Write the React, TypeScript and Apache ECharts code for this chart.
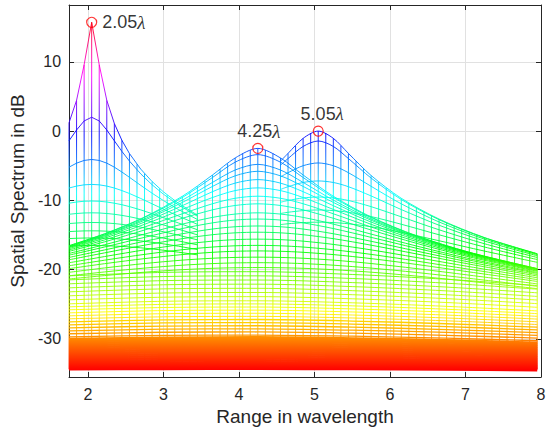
import React, { useEffect, useRef } from "react";
import * as echarts from "echarts";

// Mesh column positions (range grid, in wavelengths) and the top of each column
const COL_X = [1.75, 1.85, 1.95, 2.05, 2.15, 2.25, 2.35, 2.45, 2.55, 2.65, 2.75, 2.85, 2.95, 3.05, 3.15, 3.25, 3.35, 3.45, 3.55, 3.65, 3.75, 3.85, 3.95, 4.05, 4.15, 4.25, 4.35, 4.45, 4.55, 4.65, 4.75, 4.85, 4.95, 5.05, 5.15, 5.25, 5.35, 5.45, 5.55, 5.65, 5.75, 5.85, 5.95, 6.05, 6.15, 6.25, 6.35, 6.45, 6.55, 6.65, 6.75, 6.85, 6.95, 7.05, 7.15, 7.25, 7.35, 7.45, 7.55, 7.65, 7.75, 7.85, 7.95];
const COL_TOP = [1.2, 4.44, 9.58, 15.7, 9.58, 4.44, 1.1, -1.33, -3.24, -4.8, -6.13, -7.28, -8.3, -9.21, -10.04, -9.41, -8.71, -7.96, -7.17, -6.34, -5.5, -4.66, -3.88, -3.21, -2.76, -2.5, -2.76, -3.21, -3.88, -3.22, -2.09, -1.05, -0.28, 0.0, -0.28, -1.05, -2.09, -3.22, -4.35, -5.41, -6.41, -7.33, -8.18, -8.97, -9.7, -10.38, -11.02, -11.61, -12.17, -12.7, -13.2, -13.68, -14.13, -14.56, -14.97, -15.36, -15.73, -16.09, -16.44, -16.77, -17.09, -17.4, -17.7];
const FLOOR = -34.4;

// Rows around the source at 2.05 wavelengths
const A_X = [1.75, 1.85, 1.95, 2.05, 2.15, 2.25, 2.35, 2.45, 2.55, 2.7, 2.85, 3.0, 3.2, 3.45];
const A_ROWS = [
  [1.2, 4.44, 9.58, 15.7, 9.58, 4.44, 1.1, -1.33, -3.24, -5.49, -7.28, -8.77, -10.43, -12.13],
  [-1.4, 0.16, 1.46, 2.0, 1.46, 0.16, -1.4, -2.93, -4.33, -6.18, -7.75, -9.11, -10.66, -12.29],
  [-5.21, -4.63, -4.24, -4.1, -4.24, -4.63, -5.21, -5.91, -6.67, -7.84, -8.97, -10.03, -11.33, -12.76],
  [-8.22, -7.94, -7.76, -7.7, -7.76, -7.94, -8.22, -8.59, -9.01, -9.73, -10.5, -11.27, -12.28, -13.46],
  [-10.41, -10.24, -10.13, -10.1, -10.13, -10.24, -10.41, -10.63, -10.9, -11.38, -11.92, -12.49, -13.27, -14.24],
  [-12.01, -11.9, -11.82, -11.8, -11.82, -11.9, -12.01, -12.17, -12.36, -12.71, -13.11, -13.55, -14.17, -14.98],
  [-13.35, -13.27, -13.21, -13.2, -13.21, -13.27, -13.35, -13.47, -13.61, -13.87, -14.18, -14.53, -15.04, -15.7],
  [-14.51, -14.45, -14.41, -14.4, -14.41, -14.45, -14.51, -14.6, -14.71, -14.92, -15.17, -15.45, -15.86, -16.42],
  [-15.52, -15.47, -15.44, -15.43, -15.44, -15.47, -15.52, -15.6, -15.68, -15.85, -16.05, -16.28, -16.62, -17.1],
  [-16.6, -16.56, -16.53, -16.52, -16.53, -16.56, -16.6, -16.65, -16.72, -16.85, -17.01, -17.2, -17.48, -17.87],
];

// Rows around the source at 4.25 wavelengths
const B_X = [1.75, 2.25, 2.75, 3.25, 3.65, 3.95, 4.25, 4.55, 4.85, 5.25, 5.75, 6.35, 7.05, 7.95];
const B_ROWS = [
  [-16.54, -14.7, -12.4, -9.41, -6.34, -3.88, -2.5, -3.88, -6.34, -9.41, -12.4, -15.1, -17.49, -19.85],
  [-16.57, -14.75, -12.49, -9.59, -6.7, -4.49, -3.4, -4.49, -6.7, -9.59, -12.49, -15.15, -17.51, -19.86],
  [-16.65, -14.87, -12.69, -9.97, -7.41, -5.62, -4.8, -5.62, -7.41, -9.97, -12.69, -15.25, -17.58, -19.9],
  [-16.73, -14.98, -12.87, -10.3, -7.99, -6.46, -5.8, -6.46, -7.99, -10.3, -12.87, -15.35, -17.64, -19.94],
  [-16.83, -15.14, -13.13, -10.77, -8.75, -7.51, -7.0, -7.51, -8.75, -10.77, -13.13, -15.5, -17.73, -19.99],
  [-16.98, -15.35, -13.46, -11.31, -9.59, -8.59, -8.2, -8.59, -9.59, -11.31, -13.46, -15.7, -17.84, -20.06],
  [-17.16, -15.61, -13.85, -11.94, -10.49, -9.7, -9.4, -9.7, -10.49, -11.94, -13.85, -15.93, -17.99, -20.15],
  [-17.36, -15.9, -14.28, -12.59, -11.37, -10.74, -10.5, -10.74, -11.37, -12.59, -14.28, -16.2, -18.16, -20.25],
  [-17.66, -16.32, -14.87, -13.43, -12.46, -11.98, -11.8, -11.98, -12.46, -13.43, -14.87, -16.59, -18.41, -20.41],
  [-17.91, -16.66, -15.34, -14.07, -13.25, -12.84, -12.7, -12.84, -13.25, -14.07, -15.34, -16.91, -18.62, -20.54],
  [-18.24, -17.09, -15.91, -14.82, -14.14, -13.81, -13.7, -13.81, -14.14, -14.82, -15.91, -17.32, -18.9, -20.72],
  [-18.58, -17.52, -16.47, -15.53, -14.96, -14.69, -14.6, -14.69, -14.96, -15.53, -16.47, -17.73, -19.2, -20.92],
  [-19.01, -18.06, -17.15, -16.36, -15.89, -15.67, -15.6, -15.67, -15.89, -16.36, -17.15, -18.25, -19.57, -21.17],
  [-19.44, -18.59, -17.8, -17.13, -16.74, -16.56, -16.5, -16.56, -16.74, -17.13, -17.8, -18.76, -19.95, -21.44],
  [-19.86, -19.1, -18.41, -17.83, -17.5, -17.35, -17.3, -17.35, -17.5, -17.83, -18.41, -19.25, -20.33, -21.71],
  [-20.39, -19.72, -19.12, -18.63, -18.36, -18.24, -18.2, -18.24, -18.36, -18.63, -19.12, -19.85, -20.8, -22.06],
  [-20.89, -20.3, -19.78, -19.36, -19.13, -19.03, -19.0, -19.03, -19.13, -19.36, -19.78, -20.41, -21.26, -22.41],
  [-21.35, -20.83, -20.37, -20.01, -19.81, -19.73, -19.7, -19.73, -19.81, -20.01, -20.37, -20.93, -21.69, -22.74],
];

// Rows around the source at 5.05 wavelengths (visible from the dip onwards)
const C_X = [4.55, 4.65, 4.85, 5.05, 5.25, 5.45, 5.75, 6.15, 6.65, 7.25, 7.95];
const C_ROWS = [
  [-4.35, -3.22, -1.05, 0.0, -1.05, -3.22, -6.41, -9.7, -12.7, -15.36, -17.7],
  [-4.93, -3.97, -2.22, -1.43, -2.22, -3.97, -6.78, -9.88, -12.79, -15.41, -17.73],
  [-6.63, -6.01, -5.0, -4.6, -5.0, -6.01, -7.97, -10.5, -13.12, -15.59, -17.84],
  [-8.43, -8.03, -7.42, -7.2, -7.42, -8.03, -9.36, -11.33, -13.59, -15.86, -18.0],
  [-10.28, -10.02, -9.65, -9.52, -9.65, -10.02, -10.91, -12.38, -14.25, -16.26, -18.25],
  [-11.9, -11.72, -11.48, -11.39, -11.48, -11.72, -12.34, -13.45, -14.97, -16.73, -18.55],
  [-13.5, -13.38, -13.21, -13.15, -13.21, -13.38, -13.81, -14.62, -15.83, -17.32, -18.95],
];

// Low, nearly flat rows (noise floor)
const BAND_X = [1.75, 3.0, 4.25, 5.5, 6.75, 7.95];
const BAND_ROWS = [
  [-20.9, -20.4, -20.3, -20.7, -21.4, -22.3],
  [-21.48, -21.0, -20.9, -21.28, -21.96, -22.82],
  [-22.05, -21.59, -21.5, -21.87, -22.52, -23.35],
  [-22.63, -22.19, -22.1, -22.45, -23.07, -23.87],
  [-23.21, -22.78, -22.7, -23.04, -23.63, -24.39],
  [-23.78, -23.38, -23.3, -23.62, -24.19, -24.91],
  [-24.36, -23.98, -23.9, -24.21, -24.75, -25.44],
  [-24.94, -24.57, -24.5, -24.79, -25.3, -25.96],
  [-25.37, -25.02, -24.95, -25.23, -25.72, -26.35],
  [-25.8, -25.47, -25.4, -25.67, -26.14, -26.74],
  [-26.24, -25.91, -25.85, -26.11, -26.56, -27.14],
  [-26.67, -26.36, -26.3, -26.55, -26.98, -27.53],
  [-27.1, -26.81, -26.75, -26.98, -27.39, -27.92],
  [-27.53, -27.26, -27.2, -27.42, -27.81, -28.31],
  [-27.97, -27.7, -27.65, -27.86, -28.23, -28.71],
  [-28.4, -28.15, -28.1, -28.3, -28.65, -29.1],
  [-28.83, -28.6, -28.55, -28.74, -29.07, -29.49],
  [-29.26, -29.04, -29.0, -29.18, -29.49, -29.88],
  [-29.7, -29.49, -29.45, -29.61, -29.9, -30.27],
  [-30.03, -29.84, -29.8, -29.96, -30.23, -30.58],
  [-30.32, -30.14, -30.1, -30.25, -30.51, -30.84],
  [-30.61, -30.44, -30.4, -30.54, -30.79, -31.1],
  [-30.9, -30.73, -30.7, -30.83, -31.06, -31.36],
  [-31.19, -31.03, -31.0, -31.12, -31.34, -31.62],
  [-31.48, -31.33, -31.3, -31.42, -31.62, -31.89],
  [-31.76, -31.63, -31.6, -31.71, -31.9, -32.15],
  [-32.05, -31.93, -31.9, -32.0, -32.18, -32.41],
  [-32.34, -32.22, -32.2, -32.29, -32.46, -32.67],
  [-32.63, -32.52, -32.5, -32.59, -32.74, -32.93],
  [-32.92, -32.82, -32.8, -32.88, -33.02, -33.19],
  [-33.21, -33.12, -33.1, -33.17, -33.29, -33.45],
  [-33.49, -33.42, -33.4, -33.46, -33.57, -33.72],
  [-33.74, -33.66, -33.65, -33.71, -33.81, -33.93],
  [-33.98, -33.91, -33.9, -33.95, -34.04, -34.15],
  [-34.17, -34.11, -34.1, -34.15, -34.22, -34.33],
  [-34.36, -34.31, -34.3, -34.34, -34.41, -34.5],
];

// Marked peaks
const PEAK_X = [2.05, 4.25, 5.05];
const PEAK_Y = [15.7, -2.5, 0.0];
const PEAK_TEXT = ["2.05", "4.25", "5.05"];

const FONT = "'Liberation Sans', Arial, Helvetica, sans-serif";
const AXIS_COLOR = "#262626";

function rowSeries(xs: number[], rows: number[][], smooth: number | boolean, width: (i: number) => number) {
  return rows.map((r, i) => ({
    type: "line",
    data: xs.map((x, j) => [x, r[j]]),
    smooth,
    symbol: "none",
    showSymbol: false,
    silent: true,
    lineStyle: { width: width(i) },
    z: 2,
  }));
}

export default function App() {
  const ref = useRef<HTMLDivElement>(null);
  useEffect(() => {
    if (!ref.current) return;
    const chart = echarts.init(ref.current, undefined, { renderer: "svg" });

    const colData: any[] = [];
    COL_X.forEach((x, i) => {
      colData.push([x, FLOOR]);
      colData.push([x, COL_TOP[i]]);
      colData.push([x, "-"]);
    });

    const lineSeries: any[] = [
      {
        type: "line",
        data: colData,
        symbol: "none",
        showSymbol: false,
        silent: true,
        connectNulls: false,
        lineStyle: { width: 0.9 },
        z: 1,
      },
      ...rowSeries(BAND_X, BAND_ROWS, 0.3, (i) => (BAND_ROWS[i][2] <= -29.7 ? 2.8 : BAND_ROWS[i][2] <= -27 ? 1.3 : 0.9)),
      ...rowSeries(B_X, B_ROWS, 0.3, () => 0.9),
      ...rowSeries(C_X, C_ROWS, 0.3, () => 0.9),
      ...rowSeries(A_X, A_ROWS, false, () => 0.9),
    ];
    const lineIdx = lineSeries.map((_, i) => i);

    const peakSeries = {
      type: "scatter",
      silent: true,
      symbol: "circle",
      symbolSize: 10,
      z: 10,
      itemStyle: { color: "rgba(0,0,0,0)", borderColor: "#ff0000", borderWidth: 1.2 },
      data: PEAK_X.map((x, i) => ({
        value: [x, PEAK_Y[i]],
        label: {
          show: true,
          position: i === 0 ? "right" : "top",
          distance: i === 0 ? 4 : 2,
          offset: i === 2 ? [4, 0] : [1, 0],
          formatter: `{n|${PEAK_TEXT[i]}}{l|λ}`,
          rich: {
            n: { fontFamily: FONT, fontSize: 18, color: "#000" },
            l: { fontFamily: "'Liberation Serif', 'DejaVu Serif', serif", fontStyle: "italic", fontSize: 19, color: "#000" },
          },
        },
      })),
    };

    const common = {
      type: "value",
      axisLine: { show: true, onZero: false, lineStyle: { color: AXIS_COLOR, width: 1 } },
      axisTick: { show: true, inside: true, length: 5, lineStyle: { color: AXIS_COLOR, width: 1 } },
    };

    chart.setOption({
      animation: false,
      backgroundColor: "#ffffff",
      grid: { left: 66, right: 15, top: 5, bottom: 56, containLabel: false },
      visualMap: {
        type: "continuous",
        show: false,
        dimension: 1,
        min: -34.5,
        max: 16.5,
        seriesIndex: lineIdx,
        inRange: { color: ["#ff0000", "#ffff00", "#00ff00", "#00ffff", "#0000ff", "#ff00ff", "#ff0000"] },
      },
      xAxis: [
        {
          ...common,
          position: "bottom",
          min: 1.75,
          max: 8,
          splitNumber: 6,
          axisLabel: { color: AXIS_COLOR, fontSize: 16, fontFamily: FONT, margin: 9, showMinLabel: false },
          splitLine: { show: true, lineStyle: { color: "#e1e1e1", width: 1 } },
          name: "Range in wavelength",
          nameLocation: "middle",
          nameGap: 28,
          nameTextStyle: { color: AXIS_COLOR, fontSize: 19, fontFamily: FONT },
        },
        {
          ...common,
          position: "top",
          min: 1.75,
          max: 8,
          splitNumber: 6,
          axisLabel: { show: false },
          splitLine: { show: false },
        },
      ],
      yAxis: [
        {
          ...common,
          position: "left",
          min: -35.5,
          max: 18.2,
          axisLabel: { color: AXIS_COLOR, fontSize: 16, fontFamily: FONT, margin: 8, showMinLabel: false, showMaxLabel: false },
          splitLine: { show: true, lineStyle: { color: "#e1e1e1", width: 1 } },
          name: "Spatial Spectrum in dB",
          nameLocation: "middle",
          nameGap: 31,
          nameTextStyle: { color: AXIS_COLOR, fontSize: 19, fontFamily: FONT },
        },
        {
          ...common,
          position: "right",
          min: -35.5,
          max: 18.2,
          axisLabel: { show: false },
          splitLine: { show: false },
        },
      ],
      series: [...lineSeries, peakSeries],
    });

    return () => chart.dispose();
  }, []);

  return (
    <div
      ref={ref}
      style={{ position: "fixed", left: 0, top: 0, width: 556, height: 433, background: "#fff" }}
    />
  );
}
